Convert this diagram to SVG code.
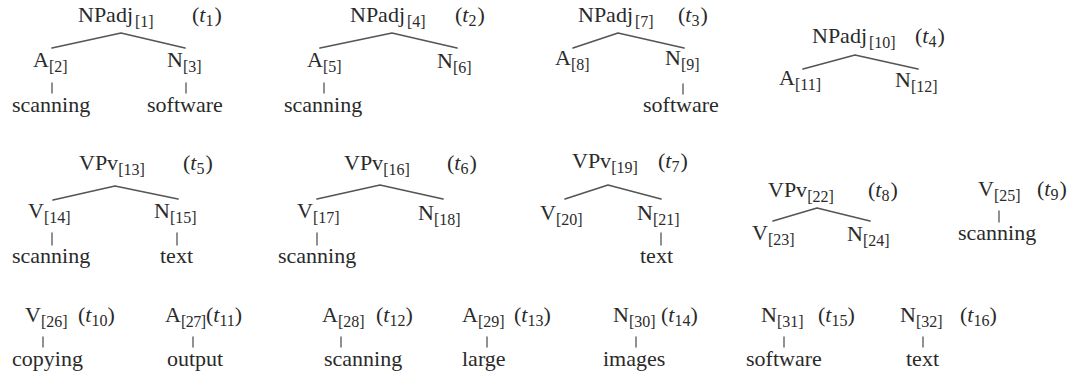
<svg xmlns="http://www.w3.org/2000/svg" width="1074" height="379" viewBox="0 0 1074 379">
<style>
text{font-family:"Liberation Serif","Times New Roman",serif;font-size:22px;fill:#2a2a2a}
.s{font-size:16px}
.i{font-style:italic}
.c polyline{fill:none;stroke:#555;stroke-width:1.7;stroke-linejoin:round;stroke-linecap:round}
.c line{stroke:#555;stroke-width:1.3;stroke-linecap:round}
</style>
<rect width="1074" height="379" fill="#fff"/>
<g class="c" id="connectors">
<polyline points="52,48 121,33 185,48"/>
<line x1="52" y1="83" x2="52" y2="93"/><line x1="186" y1="83" x2="186" y2="93"/>
<polyline points="320,48 392,33 457,48"/>
<line x1="324" y1="83" x2="324" y2="93"/>
<polyline points="573,48 618,33 684,48"/>
<line x1="683" y1="84" x2="683" y2="94"/>
<polyline points="803,69 855,55 918,69"/>
<polyline points="53,200 115,186 178,199"/>
<line x1="52" y1="233" x2="52" y2="245"/><line x1="177" y1="233" x2="177" y2="245"/>
<polyline points="317,199 380,185 443,199"/>
<line x1="317" y1="233" x2="317" y2="245"/>
<polyline points="565,199 608,185 661,199"/>
<line x1="661" y1="233" x2="661" y2="245"/>
<polyline points="773,221 817,208 870,221"/>
<line x1="999" y1="211" x2="999" y2="222"/>
<line x1="43" y1="337" x2="43" y2="347"/>
<line x1="193" y1="337" x2="193" y2="347"/>
<line x1="341" y1="337" x2="341" y2="347"/>
<line x1="487" y1="337" x2="487" y2="347"/>
<line x1="636" y1="337" x2="636" y2="347"/>
<line x1="784" y1="337" x2="784" y2="347"/>
<line x1="923" y1="337" x2="923" y2="347"/>
</g>

<g id="n1"><text x="78" y="22">NPadj<tspan class="s" dx="2" dy="5">[1]</tspan></text><text x="192" y="22">(<tspan class="i">t</tspan><tspan class="s" dy="4">1</tspan><tspan dx="1" dy="-4">)</tspan></text></g>
<g id="n2"><text x="33" y="67">A<tspan class="s" dy="5">[2]</tspan></text></g>
<g id="n3"><text x="167" y="67">N<tspan class="s" dy="5">[3]</tspan></text></g>
<g id="w2"><text x="12" y="112">scanning</text></g>
<g id="w3"><text x="147" y="112">software</text></g>

<g id="n4"><text x="350" y="22">NPadj<tspan class="s" dx="2" dy="5">[4]</tspan></text><text x="455" y="22">(<tspan class="i">t</tspan><tspan class="s" dy="4">2</tspan><tspan dx="1" dy="-4">)</tspan></text></g>
<g id="n5"><text x="307" y="67">A<tspan class="s" dy="5">[5]</tspan></text></g>
<g id="n6"><text x="437" y="68">N<tspan class="s" dy="5">[6]</tspan></text></g>
<g id="w5"><text x="284" y="112">scanning</text></g>

<g id="n7"><text x="578" y="22">NPadj<tspan class="s" dx="2" dy="5">[7]</tspan></text><text x="678" y="22">(<tspan class="i">t</tspan><tspan class="s" dy="4">3</tspan><tspan dx="1" dy="-4">)</tspan></text></g>
<g id="n8"><text x="555" y="65">A<tspan class="s" dy="5">[8]</tspan></text></g>
<g id="n9"><text x="665" y="65">N<tspan class="s" dy="5">[9]</tspan></text></g>
<g id="w9"><text x="643" y="112">software</text></g>

<g id="n10"><text x="812" y="43">NPadj<tspan class="s" dx="2" dy="5">[10]</tspan></text><text x="915" y="43">(<tspan class="i">t</tspan><tspan class="s" dy="4">4</tspan><tspan dx="1" dy="-4">)</tspan></text></g>
<g id="n11"><text x="779" y="85">A<tspan class="s" dy="5">[11]</tspan></text></g>
<g id="n12"><text x="895" y="87">N<tspan class="s" dy="5">[12]</tspan></text></g>

<g id="n13"><text x="79" y="170">VPv<tspan class="s" dy="5">[13]</tspan></text><text x="183" y="170">(<tspan class="i">t</tspan><tspan class="s" dy="4">5</tspan><tspan dx="1" dy="-4">)</tspan></text></g>
<g id="n14"><text x="28" y="218">V<tspan class="s" dy="5">[14]</tspan></text></g>
<g id="n15"><text x="154" y="218">N<tspan class="s" dy="5">[15]</tspan></text></g>
<g id="w14"><text x="12" y="263">scanning</text></g>
<g id="w15"><text x="160" y="263">text</text></g>

<g id="n16"><text x="344" y="170">VPv<tspan class="s" dy="5">[16]</tspan></text><text x="447" y="170">(<tspan class="i">t</tspan><tspan class="s" dy="4">6</tspan><tspan dx="1" dy="-4">)</tspan></text></g>
<g id="n17"><text x="297" y="218">V<tspan class="s" dy="5">[17]</tspan></text></g>
<g id="n18"><text x="418" y="220">N<tspan class="s" dy="5">[18]</tspan></text></g>
<g id="w17"><text x="278" y="263">scanning</text></g>

<g id="n19"><text x="572" y="168">VPv<tspan class="s" dy="5">[19]</tspan></text><text x="658" y="168">(<tspan class="i">t</tspan><tspan class="s" dy="4">7</tspan><tspan dx="1" dy="-4">)</tspan></text></g>
<g id="n20"><text x="540" y="220">V<tspan class="s" dy="5">[20]</tspan></text></g>
<g id="n21"><text x="637" y="220">N<tspan class="s" dy="5">[21]</tspan></text></g>
<g id="w21"><text x="640" y="263">text</text></g>

<g id="n22"><text x="768" y="197">VPv<tspan class="s" dy="5">[22]</tspan></text><text x="868" y="197">(<tspan class="i">t</tspan><tspan class="s" dy="4">8</tspan><tspan dx="1" dy="-4">)</tspan></text></g>
<g id="n23"><text x="752" y="240">V<tspan class="s" dy="5">[23]</tspan></text></g>
<g id="n24"><text x="847" y="241">N<tspan class="s" dy="5">[24]</tspan></text></g>

<g id="n25"><text x="978" y="196">V<tspan class="s" dy="5">[25]</tspan></text><text x="1037" y="196">(<tspan class="i">t</tspan><tspan class="s" dy="4">9</tspan><tspan dx="1" dy="-4">)</tspan></text></g>
<g id="w25"><text x="958" y="240">scanning</text></g>

<g id="n26"><text x="25" y="322">V<tspan class="s" dy="5">[26]</tspan></text><text x="78" y="322">(<tspan class="i">t</tspan><tspan class="s" dy="4">10</tspan><tspan dy="-4">)</tspan></text></g>
<g id="w26"><text x="12" y="366">copying</text></g>
<g id="n27"><text x="165" y="322">A<tspan class="s" dy="5" letter-spacing="-0.5">[27]</tspan></text><text x="206" y="322">(<tspan class="i">t</tspan><tspan class="s" dy="4">11</tspan><tspan dy="-4">)</tspan></text></g>
<g id="w27"><text x="167" y="366">output</text></g>
<g id="n28"><text x="322" y="322">A<tspan class="s" dy="5">[28]</tspan></text><text x="376" y="322">(<tspan class="i">t</tspan><tspan class="s" dy="4">12</tspan><tspan dy="-4">)</tspan></text></g>
<g id="w28"><text x="324" y="366">scanning</text></g>
<g id="n29"><text x="462" y="322">A<tspan class="s" dy="5">[29]</tspan></text><text x="514" y="322">(<tspan class="i">t</tspan><tspan class="s" dy="4">13</tspan><tspan dy="-4">)</tspan></text></g>
<g id="w29"><text x="462" y="366">large</text></g>
<g id="n30"><text x="613" y="322">N<tspan class="s" dy="5">[30]</tspan></text><text x="661" y="322">(<tspan class="i">t</tspan><tspan class="s" dy="4">14</tspan><tspan dy="-4">)</tspan></text></g>
<g id="w30"><text x="603" y="366">images</text></g>
<g id="n31"><text x="761" y="322">N<tspan class="s" dy="5">[31]</tspan></text><text x="818" y="322">(<tspan class="i">t</tspan><tspan class="s" dy="4">15</tspan><tspan dy="-4">)</tspan></text></g>
<g id="w31"><text x="746" y="366">software</text></g>
<g id="n32"><text x="900" y="322">N<tspan class="s" dy="5">[32]</tspan></text><text x="960" y="322">(<tspan class="i">t</tspan><tspan class="s" dy="4">16</tspan><tspan dy="-4">)</tspan></text></g>
<g id="w32"><text x="906" y="366">text</text></g>
</svg>
